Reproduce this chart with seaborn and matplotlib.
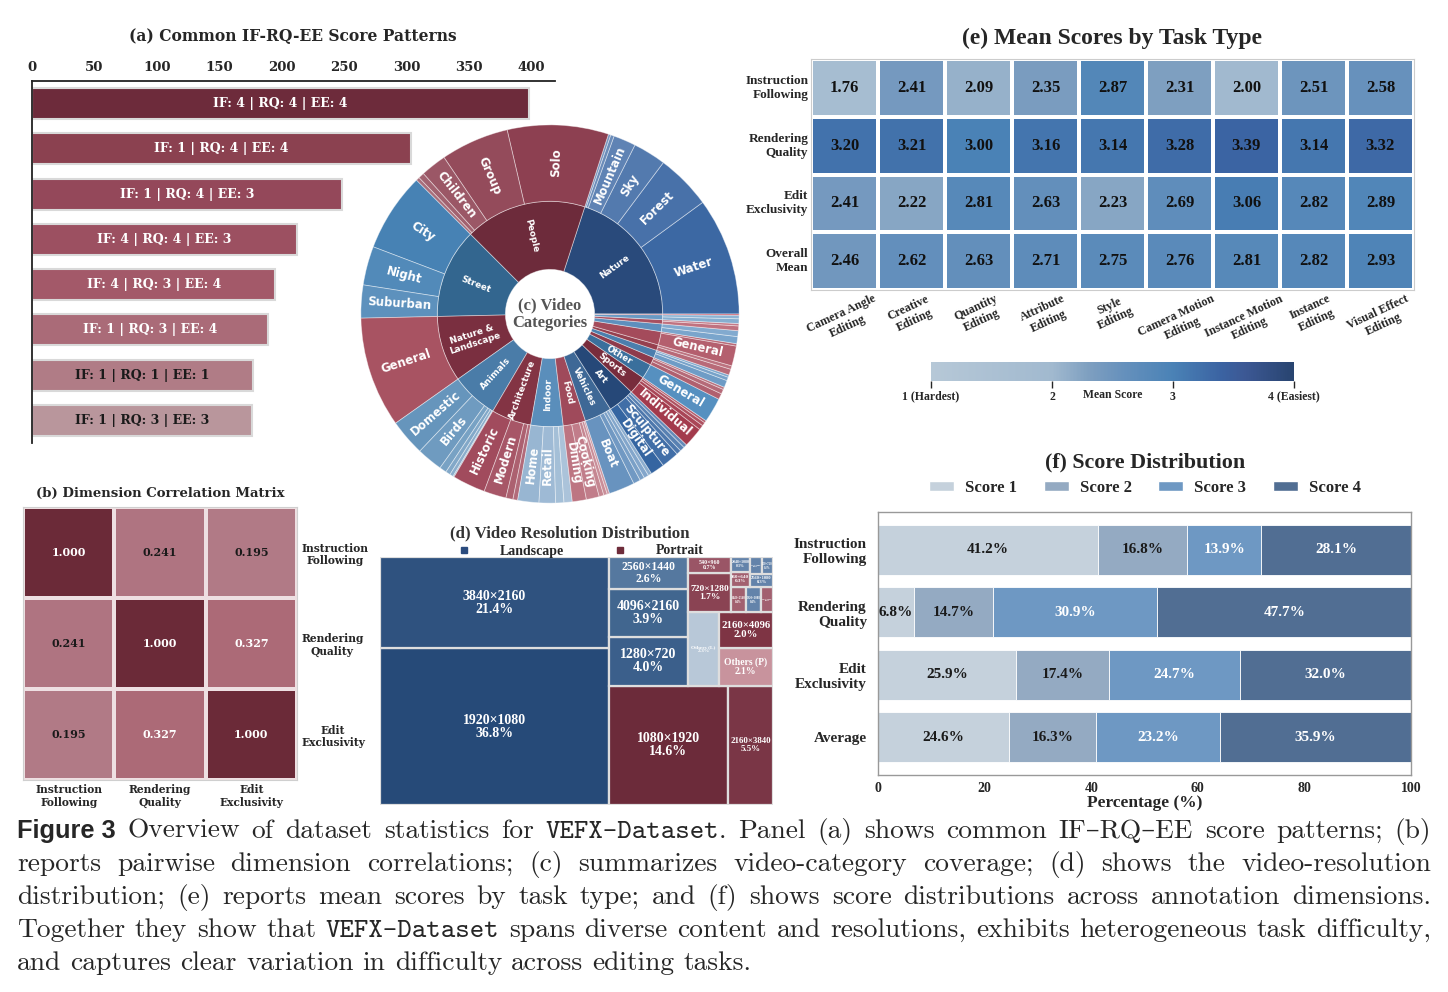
import numpy as np
import pandas as pd
import matplotlib
matplotlib.use('Agg')
import matplotlib.pyplot as plt
import seaborn as sns
from matplotlib.colors import LinearSegmentedColormap, to_rgb
from matplotlib.patches import Rectangle, Patch
from matplotlib.lines import Line2D

sns.set_style('white')
plt.rcParams['font.family'] = ['DejaVu Serif', 'DejaVu Sans']
plt.rcParams['font.weight'] = 'bold'

W_PX, H_PX = 1448, 992

# ---------------- data ----------------
# (a) score patterns
pattern_labels = ['IF: 4 | RQ: 4 | EE: 4', 'IF: 1 | RQ: 4 | EE: 4', 'IF: 1 | RQ: 4 | EE: 3',
                  'IF: 4 | RQ: 4 | EE: 3', 'IF: 4 | RQ: 3 | EE: 4', 'IF: 1 | RQ: 3 | EE: 4',
                  'IF: 1 | RQ: 1 | EE: 1', 'IF: 1 | RQ: 3 | EE: 3']
pattern_counts = [398, 304, 248, 212, 195, 189, 177, 176]

# (b) correlation matrix
dims = ['Instruction\nFollowing', 'Rendering\nQuality', 'Edit\nExclusivity']
corr_values = [[1.000, 0.241, 0.195],
               [0.241, 1.000, 0.327],
               [0.195, 0.327, 1.000]]

# (c) video categories (share of videos, %)
sun_child_parent = ['Nature'] * 6 + ['People'] * 5 + ['Street'] * 3 + ['Nature &\nLandscape'] + \
    ['Animals'] * 6 + ['Architecture'] * 4 + ['Indoor'] * 4 + ['Food'] * 5 + ['Vehicles'] * 5 + \
    ['Art'] * 5 + ['Sports'] * 4 + ['Other'] + ['Events'] * 3 + ['Technology'] * 3 + \
    ['Education'] * 2 + ['Weather'] * 2 + ['Industry'] * 2 + ['Fashion'] * 2 + ['Space'] * 2 + ['Abstract']
sun_child_names = ['Water', 'Forest', 'Sky', 'Mountain', 'Desert', 'Snow',
                   'Solo', 'Group', 'Children', 'Elderly', 'Couple',
                   'City', 'Night', 'Suburban',
                   'General',
                   'Domestic', 'Birds', 'Wildlife', 'Marine', 'Insects', 'Farm',
                   'Historic', 'Modern', 'Bridges', 'Religious',
                   'Home', 'Retail', 'Office', 'Gym',
                   'Dining', 'Cooking', 'Market', 'Drinks', 'Dessert',
                   'Boat', 'Train', 'Aircraft', 'Bicycle', 'Motorcycle',
                   'Digital', 'Sculpture', 'Painting', 'Music', 'Dance',
                   'Individual', 'Water Sports', 'Extreme', 'Fitness',
                   'General',
                   'Wedding', 'Festival', 'Concert',
                   'Gadgets', 'Robots', 'Screens',
                   'Classroom', 'Lab',
                   'General', 'Storm',
                   'Factory', 'Construction',
                   'Runway', 'Street Style',
                   'Stars', 'Planets',
                   'Patterns']
sun_child_share = [10.0, 4.7, 2.8, 1.9, 0.3, 0.2,
                   8.6, 5.8, 2.2, 0.5, 0.3,
                   6.7, 3.3, 2.8,
                   9.4,
                   3.1, 2.2, 0.6, 0.4, 0.3, 0.1,
                   2.8, 1.9, 0.6, 0.4,
                   1.8, 1.4, 0.7, 0.7,
                   1.2, 1.1, 0.4, 0.3, 0.2,
                   2.2, 0.6, 0.4, 0.4, 0.3,
                   1.2, 1.5, 0.4, 0.4, 0.3,
                   1.7, 0.4, 0.3, 0.2,
                   2.1,
                   0.5, 0.4, 0.2,
                   0.6, 0.3, 0.2,
                   0.5, 0.3,
                   1.7, 0.2,
                   0.6, 0.5,
                   0.4, 0.2,
                   0.4, 0.3,
                   0.1]

# (d) resolutions (% of videos)
res_names = ['1920×1080', '3840×2160', '1080×1920', '2160×3840', '1280×720', '4096×2160',
             '2560×1440', 'Others (L)', 'Others (P)', '2160×4096', '720×1280', '540×960',
             '1440×2560', '1920×1088', '1080×1440', '360×640', '2048×1080', '2560×1080',
             '1440×1080', '960×720']
res_share = [36.8, 21.4, 14.6, 5.5, 4.0, 3.9, 2.6, 2.3, 2.1, 2.0, 1.7, 0.7,
             0.4, 0.4, 0.3, 0.3, 0.3, 0.3, 0.2, 0.2]
res_orient = ['L', 'L', 'P', 'P', 'L', 'L', 'L', 'L', 'P', 'P', 'P', 'P',
              'P', 'L', 'P', 'P', 'L', 'L', 'L', 'L']

# (e) mean scores by task type
task_types = ['Camera Angle\nEditing', 'Creative\nEditing', 'Quantity\nEditing', 'Attribute\nEditing',
              'Style\nEditing', 'Camera Motion\nEditing', 'Instance Motion\nEditing', 'Instance\nEditing',
              'Visual Effect\nEditing']
score_rows = ['Instruction\nFollowing', 'Rendering\nQuality', 'Edit\nExclusivity', 'Overall\nMean']
mean_if = [1.76, 2.41, 2.09, 2.35, 2.87, 2.31, 2.00, 2.51, 2.58]
mean_rq = [3.20, 3.21, 3.00, 3.16, 3.14, 3.28, 3.39, 3.14, 3.32]
mean_ee = [2.41, 2.22, 2.81, 2.63, 2.23, 2.69, 3.06, 2.82, 2.89]
mean_all = [2.46, 2.62, 2.63, 2.71, 2.75, 2.76, 2.81, 2.82, 2.93]

# (f) score distribution (%)
dist_dims = ['Instruction\nFollowing', 'Rendering\nQuality', 'Edit\nExclusivity', 'Average']
score_names = ['Score 1', 'Score 2', 'Score 3', 'Score 4']
score1 = [41.2, 6.8, 25.9, 24.6]
score2 = [16.8, 14.7, 17.4, 16.3]
score3 = [13.9, 30.9, 24.7, 23.2]
score4 = [28.1, 47.7, 32.0, 35.9]

# ---------------- styles ----------------
pattern_colors = ['#6D2B3B', '#8B4150', '#94485A', '#9C5061', '#A35969', '#AA6B78', '#B07C86', '#B9969C']

parent_colors = {'Nature': '#294A7B', 'People': '#6D2B3B', 'Street': '#33668F', 'Nature &\nLandscape': '#7A2F40',
                 'Animals': '#4A7CA8', 'Architecture': '#833444', 'Indoor': '#5A8EBB', 'Food': '#9F4A5B',
                 'Vehicles': '#3E6896', 'Art': '#264878', 'Sports': '#782C3C', 'Other': '#3A6F9C',
                 'Events': '#8E3B4C', 'Technology': '#4B7EAD', 'Education': '#96404F', 'Weather': '#A44B5B',
                 'Industry': '#5E8FBD', 'Fashion': '#A85060', 'Space': '#6A9AC4', 'Abstract': '#B03F50'}
child_colors = {'Nature': '#3C68A3', 'People': '#8D4051', 'Street': '#4782B4', 'Nature &\nLandscape': '#A85362',
                'Animals': '#6695BC', 'Architecture': '#A14B5D', 'Indoor': '#98B6D2', 'Food': '#BD7582',
                'Vehicles': '#6893BF', 'Art': '#3565A1', 'Sports': '#A33A4C', 'Other': '#5690C0',
                'Events': '#B0606F', 'Technology': '#6E9CC6', 'Education': '#B86A78', 'Weather': '#B45F6E',
                'Industry': '#7AA5CC', 'Fashion': '#C07280', 'Space': '#86AED0', 'Abstract': '#C84B5C'}

res_colors = {'1920×1080': '#264A78', '3840×2160': '#2F527F', '1080×1920': '#6C2B3A', '2160×3840': '#7A3646',
              '1280×720': '#3B5F8B', '4096×2160': '#41668F', '2560×1440': '#55789F', 'Others (L)': '#B8C8D8',
              'Others (P)': '#C8939D', '2160×4096': '#7E3444', '720×1280': '#8A4353', '540×960': '#9A5566'}
small_colors = {'L': '#6383AA', 'P': '#A2606F'}

score_colors = ['#C5D1DC', '#94AAC2', '#6E98C3', '#516E93']

TIMES = 'Liberation Serif'


def box(x0, y0, x1, y1):
    return [x0 / W_PX, 1 - y1 / H_PX, (x1 - x0) / W_PX, (y1 - y0) / H_PX]


def ftext(px, py, s, **kw):
    return fig.text(px / W_PX, 1 - py / H_PX, s, **kw)


def mix(c, amount):
    r = np.array(to_rgb(c))
    return tuple(r + (1 - r) * amount)


fig = plt.figure(figsize=(W_PX / 100, H_PX / 100), dpi=100)

# ---------------- (a) ----------------
ax_a = fig.add_axes(box(32, 81, 555, 443))
sns.barplot(x=pattern_counts, y=pattern_labels, hue=pattern_labels, palette=pattern_colors, legend=False,
            orient='h', width=0.68, saturation=1, edgecolor='#d9d9d9', linewidth=1.5, ax=ax_a)
ax_a.set_xlim(0, 419)
ax_a.xaxis.tick_top()
ax_a.set_xticks(range(0, 401, 50))
ax_a.tick_params(axis='x', length=0, pad=5, labelsize=9.5)
ax_a.set_yticks([])
ax_a.set_xlabel('')
ax_a.set_ylabel('')
for side in ['right', 'bottom']:
    ax_a.spines[side].set_visible(False)
for side in ['top', 'left']:
    ax_a.spines[side].set_color('#222222')
    ax_a.spines[side].set_linewidth(1.3)
for i, (lab, v) in enumerate(zip(pattern_labels, pattern_counts)):
    ax_a.text(v / 2, i, lab, ha='center', va='center', fontsize=9, fontweight='bold',
              color='white' if i < 6 else '#1a1a1a')
ftext(293, 36, '(a) Common IF-RQ-EE Score Patterns', ha='center', va='center', fontsize=11.2, fontweight='bold')

# ---------------- (c) sunburst ----------------
ax_c = fig.add_axes(box(359, 123, 741, 505))
ax_c.patch.set_visible(False)
sun = pd.DataFrame({'parent': sun_child_parent, 'name': sun_child_names, 'share': sun_child_share})
parent_order = list(dict.fromkeys(sun_child_parent))
parent_share = sun.groupby('parent', sort=False)['share'].sum().reindex(parent_order)
out_cols = []
for p, grp in sun.groupby('parent', sort=False):
    for j in range(len(grp)):
        out_cols.append(mix(child_colors[p], min(0.06 * j, 0.3)))
edge = dict(edgecolor=(1, 1, 1, 0.45), linewidth=0.6)
w_in, _ = ax_c.pie(parent_share.values, radius=0.596, startangle=0, counterclock=True,
                   colors=[parent_colors[p] for p in parent_order],
                   wedgeprops=dict(width=0.36, **edge))
w_out, _ = ax_c.pie(sun['share'].values, radius=1.0, startangle=0, counterclock=True,
                    colors=out_cols, wedgeprops=dict(width=0.404, **edge))
ax_c.set_xlim(-1.01, 1.01)
ax_c.set_ylim(-1.01, 1.01)


def radial_label(ax, w, text, r, size):
    th = (w.theta1 + w.theta2) / 2
    rot = th if (th <= 90 or th >= 270) else th - 180
    if rot >= 270:
        rot -= 360
    ax.text(r * np.cos(np.radians(th)), r * np.sin(np.radians(th)), text, rotation=rot,
            rotation_mode='anchor', ha='center', va='center', color='white', fontsize=size,
            fontweight='bold', family='DejaVu Sans', linespacing=1.0)


for w, p in zip(w_in, parent_order):
    if parent_share[p] >= 2.0:
        radial_label(ax_c, w, p, 0.425, 6.4)
for w, name, s in zip(w_out, sun['name'], sun['share']):
    if s >= 1.0:
        radial_label(ax_c, w, name, 0.80, 8.5)
ax_c.text(0, 0, '(c) Video\nCategories', ha='center', va='center', fontsize=12, fontweight='bold',
          family=TIMES, color='#555555', linespacing=1.1)

# ---------------- (b) ----------------
ax_b = fig.add_axes(box(23, 507, 297, 780))
corr_cmap = LinearSegmentedColormap.from_list(
    'corr', [(0.0, '#F3E6E9'), (0.55, '#B58590'), (0.7, '#A9616F'), (1.0, '#6B2A38')])
corr_df = pd.DataFrame(corr_values, index=dims, columns=dims)
sns.heatmap(corr_df, ax=ax_b, cmap=corr_cmap, vmin=-1, vmax=1, annot=True, fmt='.3f', cbar=False,
            linewidths=1.5, linecolor='#EEDFE2',
            annot_kws=dict(fontsize=8, fontweight='bold', family='DejaVu Serif'))
for t, v in zip(ax_b.texts, np.array(corr_values).ravel()):
    t.set_color('white' if v > 0.3 else '#1a1a1a')
ax_b.yaxis.tick_right()
ax_b.set_yticklabels(dims, rotation=0, ha='left', fontsize=7.7, fontweight='bold')
for t in ax_b.get_yticklabels():
    t.set_multialignment('center')
ax_b.set_xticklabels(dims, rotation=0, fontsize=7.7, fontweight='bold')
ax_b.tick_params(length=0, pad=3)
for s in ax_b.spines.values():
    s.set_visible(True)
    s.set_color('#cfcfcf')
ftext(160, 493, '(b) Dimension Correlation Matrix', ha='center', va='center', fontsize=9.5, fontweight='bold')


# ---------------- (d) treemap ----------------
def binary_treemap(values, x0, y0, x1, y1):
    sums = np.concatenate([[0.0], np.cumsum(values)])
    rects = [None] * len(values)

    def part(i, j, value, x0, y0, x1, y1):
        if i >= j - 1:
            rects[i] = (x0, y0, x1, y1)
            return
        offset = sums[i]
        target = value / 2 + offset
        k, hi = i + 1, j - 1
        while k < hi:
            mid = (k + hi) // 2
            if sums[mid] < target:
                k = mid + 1
            else:
                hi = mid
        if (target - sums[k - 1]) < (sums[k] - target) and i + 1 < k:
            k -= 1
        vl = sums[k] - offset
        vr = value - vl
        if (x1 - x0) > (y1 - y0):
            xk = (x0 * vr + x1 * vl) / value
            part(i, k, vl, x0, y0, xk, y1)
            part(k, j, vr, xk, y0, x1, y1)
        else:
            yk = (y0 * vr + y1 * vl) / value
            part(i, k, vl, x0, y0, x1, yk)
            part(k, j, vr, x0, yk, x1, y1)

    part(0, len(values), sums[-1], x0, y0, x1, y1)
    return rects


ax_d = fig.add_axes(box(380, 557, 773, 805))
TW, TH = 393.0, 248.0
ax_d.set_xlim(0, TW)
ax_d.set_ylim(0, TH)
ax_d.axis('off')
rects = binary_treemap(res_share, 0, 0, TW, TH)
for (x0, y0, x1, y1), name, v, o in zip(rects, res_names, res_share, res_orient):
    col = res_colors.get(name, small_colors[o])
    ax_d.add_patch(Rectangle((x0, y0), x1 - x0, y1 - y0, facecolor=col, edgecolor='#DEDEDE', linewidth=1.6))
    w, h = x1 - x0, y1 - y0
    size = min(10.0, 0.98 * w / (len(name) * 0.55 * 1.389), h / (2.7 * 1.389))
    ax_d.text((x0 + x1) / 2, (y0 + y1) / 2, f'{name}\n{v:.1f}%', ha='center', va='center',
              fontsize=size, fontweight='bold', family=TIMES, color='white', linespacing=1.0)
ftext(570, 533, '(d) Video Resolution Distribution', ha='center', va='center', fontsize=12.2,
      fontweight='bold', family=TIMES, color='#333333')
d_handles = [Line2D([], [], marker='s', linestyle='none', markersize=5, color='#2B4C7E'),
             Line2D([], [], marker='s', linestyle='none', markersize=5, color='#6E2C3A')]
fig.legend(d_handles, ['Landscape', 'Portrait'], loc='center', bbox_to_anchor=(577 / W_PX, 1 - 551 / H_PX),
           ncol=2, frameon=False, handletextpad=1.6, columnspacing=3.0,
           prop=dict(family=TIMES, weight='bold', size=10))

# ---------------- (e) heatmap ----------------
ax_e = fig.add_axes(box(811, 59, 1414, 290))
cax = fig.add_axes(box(931, 362, 1294, 381))
stops = [(1.0, '#B6C8D7'), (2.0, '#A1B9CF'), (2.3, '#7E9FC0'), (2.6, '#6590BC'), (3.0, '#4A82B6'),
         (3.4, '#3B63A2'), (3.6, '#3C5894'), (4.0, '#284470')]
score_cmap = LinearSegmentedColormap.from_list('score', [((v - 1) / 3, c) for v, c in stops])
mean_df = pd.DataFrame([mean_if, mean_rq, mean_ee, mean_all], index=score_rows, columns=task_types)
sns.heatmap(mean_df, ax=ax_e, cmap=score_cmap, vmin=1, vmax=4, annot=True, fmt='.2f', linewidths=1.5,
            linecolor='white', cbar_ax=cax, cbar_kws=dict(orientation='horizontal'),
            annot_kws=dict(fontsize=12, fontweight='bold', family=TIMES, color='#111111'))
ax_e.set_yticklabels(score_rows, rotation=0, ha='right', fontsize=9.5, fontweight='bold', family=TIMES)
ax_e.set_xticklabels(task_types, rotation=25, ha='center', fontsize=8.7, fontweight='bold', family=TIMES)
for t in ax_e.get_xticklabels():
    t.set_multialignment('center')
ax_e.tick_params(length=0, pad=2)
for s in ax_e.spines.values():
    s.set_visible(True)
    s.set_color('#cccccc')
cbar = ax_e.collections[0].colorbar
cbar.set_ticks([1, 2, 3, 4])
cbar.set_ticklabels(['1 (Hardest)', '2', '3', '4 (Easiest)'])
cbar.ax.tick_params(length=5, width=1, labelsize=8.5, pad=2)
for t in cbar.ax.get_xticklabels():
    t.set_fontweight('bold')
    t.set_family(TIMES)
cbar.outline.set_edgecolor('#aaaaaa')
cbar.ax.set_xlabel('Mean Score', fontsize=8.5, fontweight='bold', family=TIMES, labelpad=-10)
ftext(1112, 38, '(e) Mean Scores by Task Type', ha='center', va='center', fontsize=17,
      fontweight='bold', family=TIMES)

# ---------------- (f) stacked bars ----------------
ax_f = fig.add_axes(box(878, 512, 1411, 775))
dist = pd.DataFrame({'Score 1': score1, 'Score 2': score2, 'Score 3': score3, 'Score 4': score4},
                    index=dist_dims)
left = np.zeros(len(dist_dims))
ypos = np.arange(len(dist_dims))
for k, sname in enumerate(score_names):
    vals = dist[sname].values
    ax_f.barh(ypos, vals, left=left, height=0.8, color=score_colors[k], edgecolor='white', linewidth=0.6)
    for y, l, v in zip(ypos, left, vals):
        ax_f.text(l + v / 2, y, f'{v:.1f}%', ha='center', va='center', fontsize=11, fontweight='bold',
                  family=TIMES, color='#1a1a1a' if k < 2 else 'white')
    left += vals
ax_f.set_xlim(0, 100)
ax_f.set_ylim(3.6, -0.6)
ax_f.set_yticks(ypos)
ax_f.set_yticklabels(dist_dims, fontsize=11, fontweight='bold', family=TIMES, ha='right')
ax_f.set_xticks(range(0, 101, 20))
ax_f.tick_params(axis='x', labelsize=10, length=3, pad=2)
ax_f.tick_params(axis='y', length=2, pad=6)
for t in ax_f.get_xticklabels():
    t.set_family(TIMES)
    t.set_fontweight('bold')
ax_f.set_xlabel('Percentage (%)', fontsize=12.5, fontweight='bold', family=TIMES, labelpad=0)
for s in ax_f.spines.values():
    s.set_color('#999999')
    s.set_linewidth(1)
ftext(1145, 462, '(f) Score Distribution', ha='center', va='center', fontsize=15.8, fontweight='bold',
      family=TIMES)
f_handles = [Patch(facecolor=c) for c in score_colors]
fig.legend(f_handles, score_names, loc='center', bbox_to_anchor=(1145 / W_PX, 1 - 488 / H_PX), ncol=4,
           frameon=False, handlelength=1.5, handleheight=0.6, columnspacing=1.6, handletextpad=0.65,
           prop=dict(family=TIMES, weight='bold', size=12))

# ---------------- caption ----------------
caption_lines = [
    [('Figure 3', 'head'), (' Overview of dataset statistics for ', 'rm'), ('VEFX-Dataset', 'tt'),
     ('. Panel (a) shows common IF–RQ–EE score patterns; (b)', 'rm')],
    [('reports pairwise dimension correlations; (c) summarizes video-category coverage; (d) shows the video-resolution', 'rm')],
    [('distribution; (e) reports mean scores by task type; and (f) shows score distributions across annotation dimensions.', 'rm')],
    [('Together they show that ', 'rm'), ('VEFX-Dataset', 'tt'),
     (' spans diverse content and resolutions, exhibits heterogeneous task difficulty,', 'rm')],
    [('and captures clear variation in difficulty across editing tasks.', 'rm')],
]
CAP_SIZE = 19.8
cap_styles = {'rm': dict(family=['cmr10', 'DejaVu Serif'], fontweight='normal', fontsize=CAP_SIZE),
              'tt': dict(family=['cmtt10', 'DejaVu Sans Mono'], fontweight='normal', fontsize=CAP_SIZE),
              'head': dict(family=['Liberation Sans', 'DejaVu Sans'], fontweight='bold', fontsize=18.3)}
cap_baselines = [838, 871, 904, 937, 970]
CAP_X0, CAP_X1 = 17, 1431

renderer = fig.canvas.get_renderer()


def text_width(s, style):
    t = fig.text(0, 0, s, **cap_styles[style])
    wdt = t.get_window_extent(renderer=renderer).width
    t.remove()
    return wdt


space_w = text_width('a a', 'rm') - text_width('aa', 'rm')

for li, runs in enumerate(caption_lines):
    words = [[]]
    for s, style in runs:
        if style == 'head':
            words[-1].append((s, style))
            continue
        parts = s.split(' ')
        for pi, ptxt in enumerate(parts):
            if pi > 0:
                words.append([])
            if ptxt:
                words[-1].append((ptxt, style))
    words = [w for w in words if w]
    widths = [[text_width(s, st) for s, st in w] for w in words]
    total = sum(sum(ws) for ws in widths)
    if li < len(caption_lines) - 1:
        gap = (CAP_X1 - CAP_X0 - total) / (len(words) - 1)
    else:
        gap = space_w
    x = CAP_X0
    for w, ws in zip(words, widths):
        for (s, st), wd in zip(w, ws):
            ftext(x, cap_baselines[li], s, ha='left', va='baseline', **cap_styles[st])
            x += wd
        x += gap

fig.savefig('out.png', dpi=100)
